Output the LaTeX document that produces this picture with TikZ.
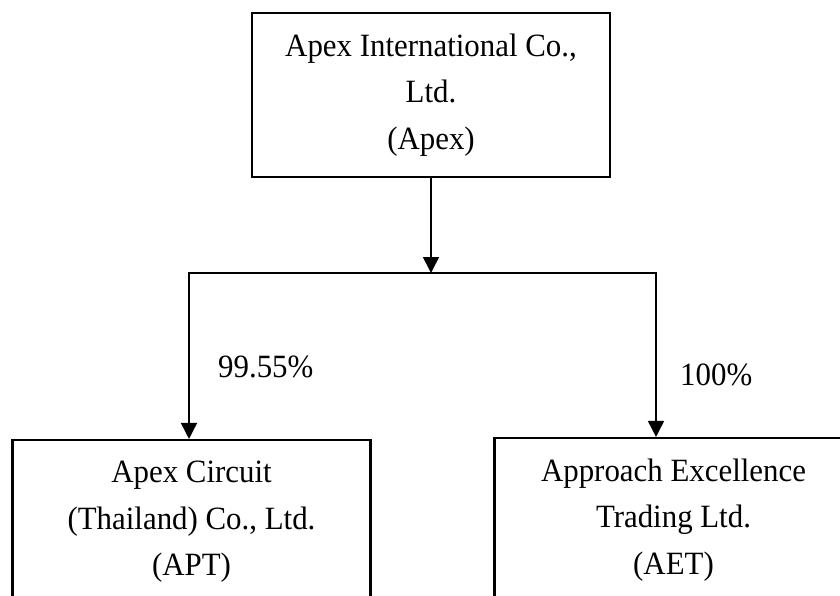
\documentclass[tikz,border=0pt]{standalone}
\usepackage{fontspec}
\setmainfont[FakeStretch=0.95]{Liberation Serif}
\usetikzlibrary{arrows.meta}
\begin{document}
\begin{tikzpicture}[x=1pt,y=-1pt,
  txt/.style={font=\fontsize{32.5pt}{46.5pt}\selectfont},
  company/.style={txt,draw=black,line width=2.1pt,minimum width=358pt,minimum height=164pt,inner sep=0pt,align=center},
  conn/.style={draw=black,line width=1.6pt,line join=miter},
  tip/.style={-{Triangle[length=16pt,width=16pt]}},
  pct/.style={txt,anchor=base west,inner sep=0pt}]
\useasboundingbox (0,0) rectangle (840,595);
\node[company] (apex) at (431,95) {Apex International Co.,\\Ltd.\\(Apex)};
\node[company] (apt) at (191.5,522) {Apex Circuit\\(Thailand) Co., Ltd.\\(APT)};
\node[company] (aet) at (673.5,520) {Approach Excellence\\Trading Ltd.\\(AET)};
\coordinate (split) at (431,273);
\coordinate (jl) at (189,273);
\coordinate (jr) at (656,273);
\draw[conn,tip] (apex.south) -- (split);
\draw[conn,tip] (jr) -- (jl) -- (jl |- apt.north);
\draw[conn,tip] (jl) -- (jr) -- (jr |- aet.north);
\node[pct] (lp) at (218,377) {99.55\%};
\node[pct] (rp) at (680,385) {100\%};
\end{tikzpicture}
\end{document}
